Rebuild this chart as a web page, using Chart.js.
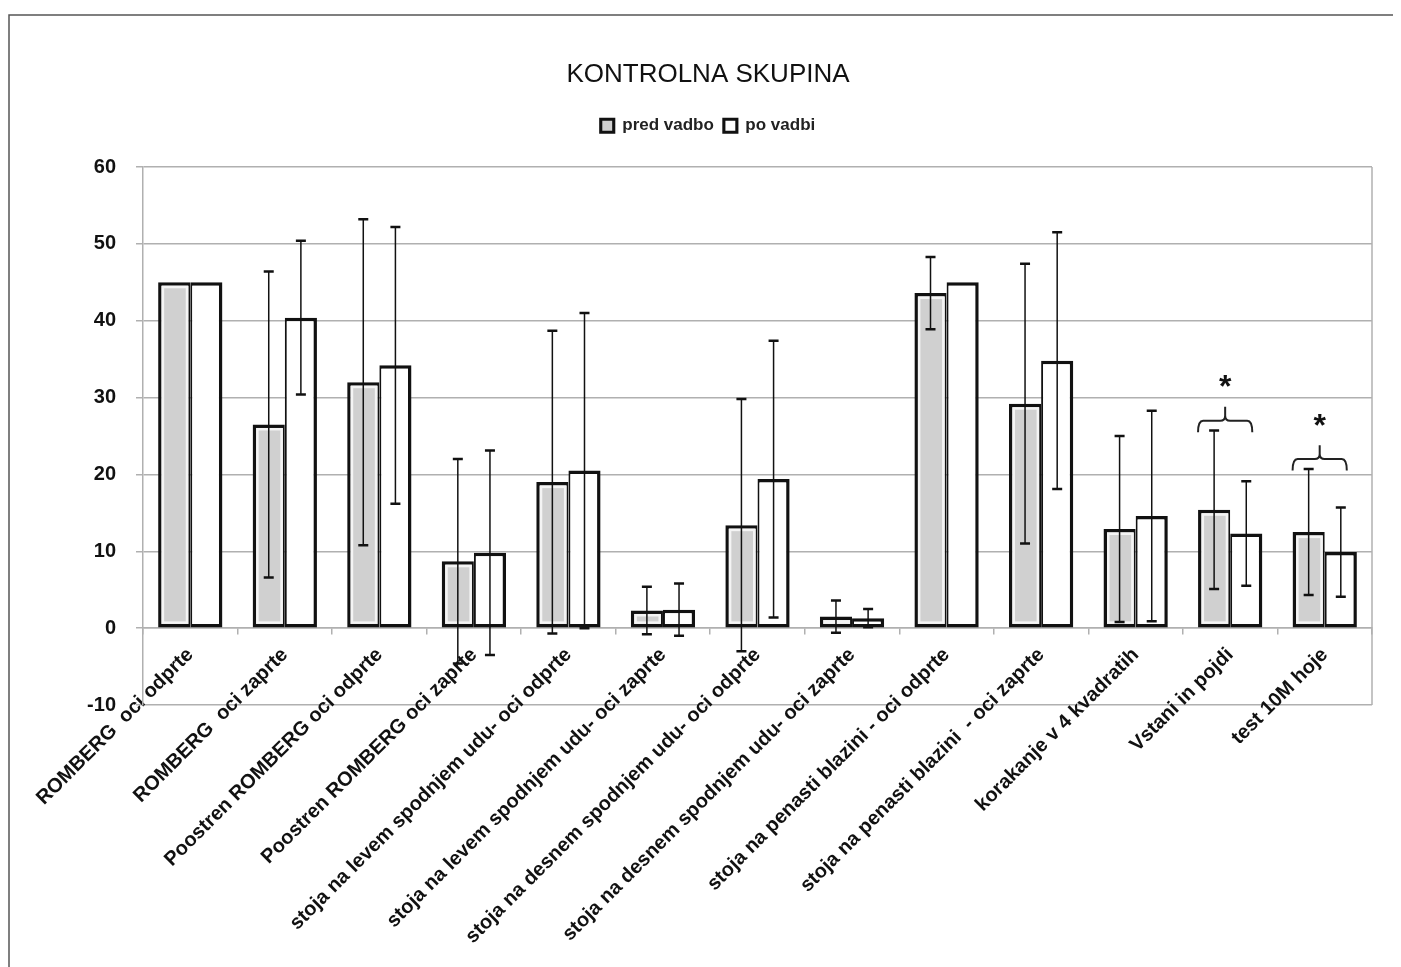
<!DOCTYPE html>
<html>
<head>
<meta charset="utf-8">
<title>KONTROLNA SKUPINA</title>
<script src="https://cdn.jsdelivr.net/npm/chart.js@4/dist/chart.umd.min.js"></script>
<style>
  html, body { margin: 0; padding: 0; background: #fff; }
  #wrap { position: absolute; left: 0; top: 0; width: 1401px; height: 967px; }
</style>
</head>
<body>
<div id="wrap"><canvas id="c" width="1401" height="967"></canvas></div>
<script>
// Test names (x categories)
const categories = [
  'ROMBERG  oci odprte',
  'ROMBERG  oci zaprte',
  'Poostren ROMBERG oci odprte',
  'Poostren ROMBERG oci zaprte',
  'stoja na levem spodnjem udu- oci odprte',
  'stoja na levem spodnjem udu- oci zaprte',
  'stoja na desnem spodnjem udu- oci odprte',
  'stoja na desnem spodnjem udu- oci zaprte',
  'stoja na penasti blazini - oci odprte',
  'stoja na penasti blazini  - oci zaprte',
  'korakanje v 4 kvadratih',
  'Vstani in pojdi',
  'test 10M hoje'
];

// Means and standard deviations before training
const predMeans = [45, 26.5, 32, 8.7, 19, 2.3, 13.4, 1.5, 43.6, 29.2, 12.9, 15.4, 12.5];
const predSD    = [0, 19.9, 21.2, 13.3, 19.7, 3.1, 16.4, 2.1, 4.7, 18.2, 12.1, 10.3, 8.2];

// Means and standard deviations after training
const poMeans = [45, 40.4, 34.2, 9.8, 20.5, 2.4, 19.4, 1.3, 45, 34.8, 14.6, 12.3, 9.9];
const poSD    = [0, 10, 18, 13.3, 20.5, 3.4, 18, 1.2, 0, 16.7, 13.7, 6.8, 5.8];

// Value axis range
const yMin = -10;
const yMax = 60;
const yStep = 10;

// Significant differences: category index and bracket level
const sigIndex = [11, 12];
const sigLevel = [27, 22];

const FONT = "'Liberation Sans', Arial, sans-serif";
const GRID = '#b0b0b0';

const pageFrame = {
  id: 'pageFrame',
  beforeDraw(chart) {
    const c = chart.ctx;
    c.save();
    c.fillStyle = '#fff';
    c.fillRect(0, 0, chart.width, chart.height);
    c.strokeStyle = '#555';
    c.lineWidth = 1.5;
    c.beginPath();
    c.moveTo(9, chart.height);
    c.lineTo(9, 15);
    c.lineTo(1393, 15);
    c.stroke();
    c.restore();
  },
  beforeDatasetsDraw(chart) {
    const a = chart.chartArea, c = chart.ctx;
    c.save();
    c.strokeStyle = GRID;
    c.lineWidth = 1.5;
    c.beginPath();
    c.moveTo(a.right, a.top);
    c.lineTo(a.right, a.bottom);
    c.stroke();
    c.restore();
  }
};

const barDetails = {
  id: 'barDetails',
  afterDatasetsDraw(chart) {
    const c = chart.ctx;
    const y = chart.scales.y;
    c.save();

    // white inner band inside the grey bars
    chart.getDatasetMeta(0).data.forEach(el => {
      const p = el.getProps(['x', 'y', 'base', 'width'], true);
      const l = p.x - p.width / 2 + 3.5 + 1.25;
      const r = p.x + p.width / 2 - 2 - 1.25;
      const t = p.y + 3.5 + 1.25;
      const b = p.base - 3.5 - 1.25;
      if (b > t && r > l) {
        c.strokeStyle = '#f4f4f4';
        c.lineWidth = 2.5;
        c.strokeRect(l, t, r - l, b - t);
      }
    });

    // error bars
    const sets = [[predMeans, predSD], [poMeans, poSD]];
    sets.forEach((s, di) => {
      const meta = chart.getDatasetMeta(di);
      meta.data.forEach((el, i) => {
        const sd = s[1][i];
        if (!sd) return;
        const x = el.x;
        const yt = y.getPixelForValue(s[0][i] + sd);
        const yb = y.getPixelForValue(s[0][i] - sd);
        c.strokeStyle = '#111';
        c.lineWidth = 1.5;
        c.beginPath();
        c.moveTo(x, yt);
        c.lineTo(x, yb);
        c.stroke();
        c.lineWidth = 2.5;
        c.beginPath();
        c.moveTo(x - 5, yt);
        c.lineTo(x + 5, yt);
        c.moveTo(x - 5, yb);
        c.lineTo(x + 5, yb);
        c.stroke();
      });
    });

    // significance braces with stars
    const m0 = chart.getDatasetMeta(0), m1 = chart.getDatasetMeta(1);
    sigIndex.forEach((idx, k) => {
      const e0 = m0.data[idx], e1 = m1.data[idx];
      const x1 = e0.x - e0.width / 2;
      const x2 = e1.x + 6;
      const xc = (x1 + x2) / 2;
      const yf = y.getPixelForValue(sigLevel[k]);
      const ye = y.getPixelForValue(sigLevel[k] - 1.5);
      const ys = y.getPixelForValue(sigLevel[k] + 1.8);
      const r = 5;
      c.strokeStyle = '#222';
      c.lineWidth = 2;
      c.beginPath();
      c.moveTo(x1, ye);
      c.quadraticCurveTo(x1, yf, x1 + r, yf);
      c.lineTo(xc - r, yf);
      c.quadraticCurveTo(xc, yf, xc, yf - r);
      c.lineTo(xc, ys);
      c.moveTo(xc, yf - r);
      c.quadraticCurveTo(xc, yf, xc + r, yf);
      c.lineTo(x2 - r, yf);
      c.quadraticCurveTo(x2, yf, x2, ye);
      c.stroke();
      c.fillStyle = '#111';
      c.font = 'bold 32px ' + FONT;
      c.textAlign = 'center';
      c.textBaseline = 'middle';
      c.fillText('*', xc, y.getPixelForValue(sigLevel[k] + 4.2));
    });
    c.restore();
  }
};

new Chart(document.getElementById('c'), {
  type: 'bar',
  data: {
    labels: categories,
    datasets: [
      {
        label: 'pred vadbo',
        data: predMeans,
        backgroundColor: '#d0d0d0',
        borderColor: '#111',
        borderWidth: { left: 3.5, top: 3.5, bottom: 3.5, right: 2 },
        borderSkipped: false,
        categoryPercentage: 0.68,
        barPercentage: 1
      },
      {
        label: 'po vadbi',
        data: poMeans,
        backgroundColor: '#ffffff',
        borderColor: '#111',
        borderWidth: { left: 2, top: 3.5, bottom: 3.5, right: 3.5 },
        borderSkipped: false,
        categoryPercentage: 0.68,
        barPercentage: 1
      }
    ]
  },
  options: {
    responsive: false,
    devicePixelRatio: 1,
    animation: false,
    layout: { padding: { left: 44, right: 29, top: 0, bottom: 262 } },
    plugins: {
      tooltip: { enabled: false },
      title: {
        display: true,
        text: 'KONTROLNA SKUPINA',
        color: '#111',
        font: { family: FONT, size: 26, weight: 'normal' },
        padding: { top: 59, bottom: 17 }
      },
      legend: {
        display: true,
        position: 'top',
        labels: {
          boxWidth: 13,
          boxHeight: 13,
          padding: 10,
          color: '#222',
          font: { family: FONT, size: 17, weight: 'bold' }
        }
      },
      subtitle: {
        display: true,
        text: '',
        weight: 500,
        padding: 0,
        font: { family: FONT, size: 19 }
      }
    },
    scales: {
      x: {
        position: { y: 0 },
        offset: true,
        grid: {
          drawOnChartArea: false,
          drawTicks: true,
          tickLength: 6,
          color: GRID,
          lineWidth: 1.5,
          offset: true
        },
        border: { display: true, color: GRID, width: 1.5 },
        ticks: {
          autoSkip: false,
          minRotation: 45,
          maxRotation: 45,
          padding: 9,
          color: '#111',
          font: { family: FONT, size: 20, weight: 'bold' }
        }
      },
      y: {
        min: yMin,
        max: yMax,
        ticks: {
          stepSize: yStep,
          padding: 20,
          color: '#111',
          font: { family: FONT, size: 20, weight: 'bold' }
        },
        grid: { color: GRID, lineWidth: 1.5, tickLength: 7 },
        border: { display: true, color: GRID, width: 1.5 },
        afterFit(scale) { scale.width = 99; }
      }
    }
  },
  plugins: [pageFrame, barDetails]
});
</script>
</body>
</html>
